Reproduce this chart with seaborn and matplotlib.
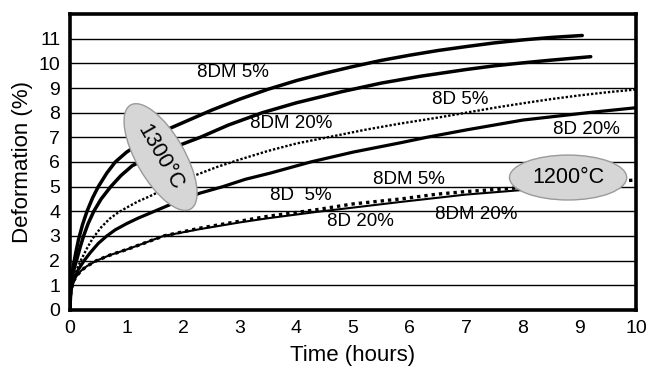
import numpy as np
import pandas as pd
import matplotlib
matplotlib.use("Agg")
import matplotlib.pyplot as plt
import seaborn as sns

# ---- data (time in hours, deformation in %) ----
t_8dm5_1300 = [0, 0.01, 0.03, 0.06, 0.1, 0.15, 0.22, 0.3, 0.4, 0.5, 0.65, 0.8, 1.0, 1.3, 1.7, 2.0,
               2.5, 3.0, 3.5, 4.0, 4.5, 5.0, 5.5, 6.0, 6.5, 7.0, 7.5, 8.0, 8.5, 9.05]
y_8dm5_1300 = [0, 0.8, 1.35, 1.8, 2.3, 2.85, 3.45, 4.0, 4.55, 5.0, 5.55, 6.0, 6.4, 6.85, 7.3, 7.6,
               8.1, 8.55, 8.95, 9.3, 9.6, 9.87, 10.12, 10.33, 10.52, 10.68, 10.83, 10.95, 11.05, 11.13]

t_8dm20_1300 = [0, 0.01, 0.03, 0.07, 0.12, 0.18, 0.24, 0.32, 0.42, 0.55, 0.72, 0.9, 1.1, 1.5, 1.9,
                2.3, 2.8, 3.4, 4.0, 4.8, 5.5, 6.2, 7.0, 7.5, 8.0, 8.5, 9.2]
y_8dm20_1300 = [0, 0.75, 1.2, 1.65, 2.05, 2.55, 3.0, 3.5, 4.0, 4.5, 5.0, 5.45, 5.85, 6.3, 6.65,
                7.0, 7.5, 8.0, 8.4, 8.85, 9.2, 9.48, 9.75, 9.9, 10.02, 10.13, 10.27]

t_8d5_1300 = [0, 0.01, 0.03, 0.08, 0.14, 0.2, 0.3, 0.4, 0.55, 0.7, 0.85, 1.0, 1.2, 1.4, 1.8, 2.2,
              2.6, 3.0, 3.5, 4.0, 4.66, 5.2, 5.84, 6.5, 7.0, 7.5, 8.0, 8.5, 9.0, 9.5, 10.0]
y_8d5_1300 = [0, 0.7, 1.05, 1.4, 1.75, 2.05, 2.5, 2.9, 3.35, 3.7, 3.95, 4.15, 4.4, 4.6, 5.05, 5.45,
              5.8, 6.1, 6.45, 6.75, 7.05, 7.3, 7.56, 7.8, 8.0, 8.2, 8.38, 8.55, 8.7, 8.83, 8.94]

t_8d20_1300 = [0, 0.01, 0.03, 0.08, 0.15, 0.25, 0.35, 0.5, 0.65, 0.8, 1.0, 1.2, 1.49, 1.9, 2.3,
               2.7, 3.1, 3.54, 4.25, 5.0, 5.84, 6.3, 7.0, 8.0, 9.15, 10.0]
y_8d20_1300 = [0, 0.65, 0.95, 1.3, 1.65, 2.0, 2.3, 2.7, 3.0, 3.25, 3.5, 3.72, 4.0, 4.4, 4.74,
               5.0, 5.3, 5.55, 6.0, 6.4, 6.78, 7.0, 7.3, 7.7, 8.0, 8.2]

t_dot_1200 = [0, 0.01, 0.03, 0.07, 0.13, 0.2, 0.3, 0.47, 0.7, 1.0, 1.3, 1.65, 2.3, 3.0, 3.5, 4.37,
              5.0, 5.84, 6.5, 7.0, 8.08, 9.0, 10.0]
y_dot_1200 = [0, 0.6, 0.9, 1.2, 1.42, 1.6, 1.78, 2.0, 2.22, 2.45, 2.7, 3.0, 3.32, 3.6, 3.8, 4.07,
              4.3, 4.5, 4.7, 4.8, 4.98, 5.12, 5.27]

t_sol_1200 = [0, 0.01, 0.03, 0.07, 0.13, 0.2, 0.3, 0.47, 0.7, 1.0, 1.3, 1.65, 2.3, 3.0, 3.5, 4.37,
              5.0, 5.84, 6.5, 7.0, 8.08, 9.0]
y_sol_1200 = [0, 0.6, 0.9, 1.2, 1.42, 1.6, 1.78, 2.0, 2.22, 2.45, 2.7, 3.0, 3.28, 3.55, 3.72, 3.98,
              4.15, 4.38, 4.55, 4.68, 4.88, 5.03]

x_ticks = list(range(0, 11))
y_ticks = list(range(0, 12))

curve_labels = ["8DM 5%", "8DM 20%", "8D 5%", "8D 20%", "8DM 5%", "8D  5%", "8D 20%", "8DM 20%"]
label_x = [2.87, 3.9, 6.9, 9.12, 5.98, 4.07, 5.13, 7.17]
label_y = [9.62, 7.56, 8.54, 7.3, 5.28, 4.63, 3.58, 3.86]

# ---- styling ----
sns.set_style("white")
plt.rcParams['font.family'] = ['Liberation Sans', 'DejaVu Sans']
plt.rcParams['text.color'] = 'black'
plt.rcParams['axes.labelcolor'] = 'black'
plt.rcParams['xtick.labelcolor'] = 'black'
plt.rcParams['ytick.labelcolor'] = 'black'

fig = plt.figure(figsize=(6.53, 3.69), dpi=100)
ax = fig.add_axes([0.1072, 0.16, 0.8668, 0.802])

series = [
    (t_8dm5_1300, y_8dm5_1300, '-', 2.5),
    (t_8dm20_1300, y_8dm20_1300, '-', 2.5),
    (t_8d5_1300, y_8d5_1300, (0, (1, 0.8)), 1.7),
    (t_8d20_1300, y_8d20_1300, '-', 2.3),
    (t_dot_1200, y_dot_1200, (0, (1, 1.2)), 2.4),
    (t_sol_1200, y_sol_1200, '-', 1.5),
]
for tt, yy, ls, lw in series:
    df = pd.DataFrame({"t": tt, "y": yy})
    sns.lineplot(data=df, x="t", y="y", ax=ax, color="black", linewidth=lw,
                 linestyle=ls, estimator=None, sort=False)

ax.set_xlim(0, 10)
ax.set_ylim(0, 12)
ax.set_xticks(x_ticks)
ax.set_yticks(y_ticks)
ax.set_xticklabels([str(v) for v in x_ticks], fontsize=14)
ax.set_yticklabels([str(v) for v in y_ticks], fontsize=14)
ax.yaxis.grid(True, color="black", linewidth=1.0)
ax.xaxis.grid(False)
ax.set_axisbelow(True)
for sp in ax.spines.values():
    sp.set_color("black")
    sp.set_linewidth(2.6)
ax.tick_params(axis="both", which="major", length=4, width=1, color="#999999",
               direction="out", pad=3)
ax.set_xlabel("Time (hours)", fontsize=16, labelpad=6)
ax.set_ylabel("Deformation (%)", fontsize=16, labelpad=4)

for s, x, y in zip(curve_labels, label_x, label_y):
    ax.text(x, y, s, fontsize=13.5, ha="center", va="center", color="black")

ax.text(1.6, 6.2, "1300°C", fontsize=15.5, rotation=-60, rotation_mode="anchor",
        ha="center", va="center", zorder=5,
        bbox=dict(boxstyle="ellipse,pad=0.3", facecolor="#d6d6d6", edgecolor="#9a9a9a", lw=1))
ax.text(8.8, 5.37, "1200°C", fontsize=15.5, ha="center", va="center", zorder=5,
        bbox=dict(boxstyle="ellipse,pad=0.25", facecolor="#d6d6d6", edgecolor="#9a9a9a", lw=1))

fig.savefig("out.png", dpi=100)
